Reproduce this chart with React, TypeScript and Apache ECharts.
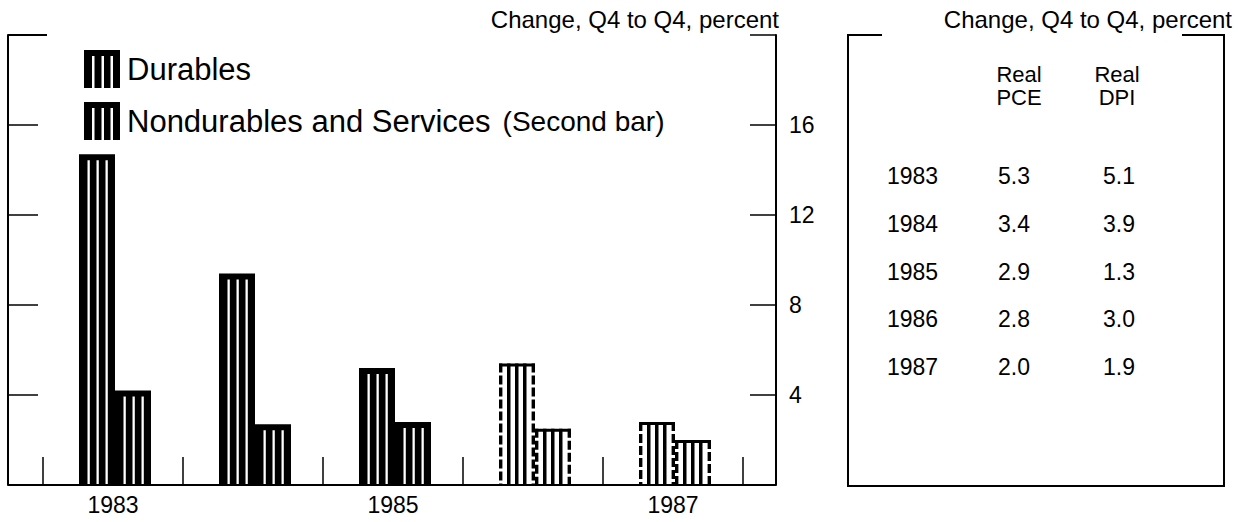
import React, { useEffect, useRef } from 'react';
import * as echarts from 'echarts';

const years = ['1983', '1984', '1985', '1986', '1987'];
const durables = [14.7, 9.4, 5.2, 5.4, 2.8];
const nondurables = [4.2, 2.7, 2.8, 2.5, 2.0];
const projected = [false, false, false, true, true];
const yTicks = [4, 8, 12, 16];

const tableYears = ['1983', '1984', '1985', '1986', '1987'];
const realPCE = ['5.3', '3.4', '2.9', '2.8', '2.0'];
const realDPI = ['5.1', '3.9', '1.3', '3.0', '1.9'];
const unitsLabel = 'Change, Q4 to Q4, percent';

const FONT = '"Liberation Sans", Arial, Helvetica, sans-serif';
const BAR_W = 36;
const DUR = 'Durables';
const NDS = 'Nondurables and Services';

const ICON =
  'path://M0,0H36V6H0Z M0,6H8V38H0Z M10.5,6H17.5V38H10.5Z M20,6H26.5V38H20Z M29,6H36V38H29Z';

function makeRender(first: boolean) {
  return (params: any, api: any) => {
    const idx = api.value(0);
    const v = api.value(1);
    const base = api.coord([idx, 0]);
    const top = api.coord([idx, v]);
    const x0 = first ? base[0] - BAR_W + 2 : base[0] + 2;
    const h = base[1] - top[1];
    const children: any[] = [];
    if (!projected[idx]) {
      children.push({ type: 'rect', shape: { x: x0, y: top[1], width: BAR_W, height: h }, style: { fill: '#000' } });
      [8.5, 17.5, 26.5].forEach((o) => {
        children.push({
          type: 'rect',
          shape: { x: x0 + o, y: top[1] + 6, width: 2.3, height: h - 7 },
          style: { fill: '#fff' },
        });
      });
    } else {
      children.push({ type: 'rect', shape: { x: x0, y: top[1], width: BAR_W, height: 3 }, style: { fill: '#000' } });
      [8, 16, 24].forEach((o) => {
        children.push({
          type: 'rect',
          shape: { x: x0 + o, y: top[1], width: 3.5, height: h },
          style: { fill: '#000' },
        });
      });
      [1.7, BAR_W - 1.7].forEach((o) => {
        children.push({
          type: 'line',
          shape: { x1: x0 + o, y1: top[1], x2: x0 + o, y2: base[1] },
          style: { stroke: '#000', lineWidth: 3.4, lineDash: [9, 3] },
        });
      });
    }
    return { type: 'group', children };
  };
}

export default function App() {
  const ref = useRef<HTMLDivElement>(null);
  useEffect(() => {
    if (!ref.current) return;
    const chart = echarts.init(ref.current, null, { renderer: 'svg' });

    const tableTexts: any[] = [];
    tableTexts.push(
      { type: 'text', x: 1019, y: 63, style: { text: 'Real\nPCE', font: `22px ${FONT}`, fill: '#000', align: 'center', lineHeight: 23 } },
      { type: 'text', x: 1117, y: 63, style: { text: 'Real\nDPI', font: `22px ${FONT}`, fill: '#000', align: 'center', lineHeight: 23 } }
    );
    tableYears.forEach((yr, i) => {
      const y = 176 + i * 47.8;
      tableTexts.push(
        { type: 'text', x: 887, y, style: { text: yr, font: `23px ${FONT}`, fill: '#000', align: 'left', verticalAlign: 'middle' } },
        { type: 'text', x: 1014, y, style: { text: realPCE[i], font: `23px ${FONT}`, fill: '#000', align: 'center', verticalAlign: 'middle' } },
        { type: 'text', x: 1119, y, style: { text: realDPI[i], font: `23px ${FONT}`, fill: '#000', align: 'center', verticalAlign: 'middle' } }
      );
    });

    const lineStyle = { stroke: '#000', lineWidth: 2 };
    chart.setOption({
      animation: false,
      backgroundColor: '#fff',
      textStyle: { fontFamily: FONT, color: '#000' },
      grid: { left: 43, right: 495, top: 35, bottom: 37, containLabel: false },
      legend: {
        orient: 'vertical',
        left: 79,
        top: 45,
        itemWidth: 36,
        itemHeight: 38,
        itemGap: 14,
        selectedMode: false,
        data: [
          { name: DUR, icon: ICON },
          { name: NDS, icon: ICON },
        ],
        formatter: (name: string) => (name === NDS ? `${name}{s|(Second bar)}` : name),
        textStyle: {
          fontSize: 31,
          fontFamily: FONT,
          color: '#000',
          padding: [0, 0, 0, 2],
          rich: { s: { fontSize: 28, fontFamily: FONT, color: '#000', padding: [0, 0, 0, 12] } },
        },
      },
      xAxis: {
        type: 'category',
        data: years,
        axisLine: { lineStyle: { color: '#000', width: 2 } },
        axisTick: { show: true, inside: true, length: 28, alignWithLabel: false, interval: 0, lineStyle: { color: '#000', width: 1.5 } },
        axisLabel: { interval: 1, fontSize: 23, color: '#000', fontFamily: FONT, margin: 8 },
        splitLine: { show: false },
      },
      yAxis: [
        {
          type: 'value',
          position: 'left',
          offset: 35,
          min: 0,
          max: 20,
          interval: 4,
          axisLine: { show: true, lineStyle: { color: '#000', width: 2 } },
          axisTick: { show: true, inside: true, length: 30, lineStyle: { color: '#000', width: 1.5 } },
          axisLabel: { show: false },
          splitLine: { show: false },
        },
        {
          type: 'value',
          position: 'right',
          offset: 33,
          min: 0,
          max: 20,
          interval: 4,
          axisLine: { show: true, lineStyle: { color: '#000', width: 2 } },
          axisTick: { show: true, inside: true, length: 26, lineStyle: { color: '#000', width: 1.5 } },
          axisLabel: {
            fontSize: 23,
            color: '#000',
            fontFamily: FONT,
            margin: 13,
            formatter: (v: number) => (yTicks.includes(v) ? String(v) : ''),
          },
          splitLine: { show: false },
        },
      ],
      series: [
        {
          name: DUR,
          type: 'custom',
          renderItem: makeRender(true),
          itemStyle: { color: '#000' },
          encode: { x: 0, y: 1 },
          data: durables.map((v, i) => [i, v]),
          clip: false,
        },
        {
          name: NDS,
          type: 'custom',
          renderItem: makeRender(false),
          itemStyle: { color: '#000' },
          encode: { x: 0, y: 1 },
          data: nondurables.map((v, i) => [i, v]),
          clip: false,
        },
      ],
      graphic: [
        { type: 'line', shape: { x1: 8, y1: 485, x2: 776, y2: 485 }, style: lineStyle },
        { type: 'line', shape: { x1: 8, y1: 35, x2: 47, y2: 35 }, style: lineStyle },
        { type: 'text', right: 1238 - 779, top: 7, style: { text: unitsLabel, font: `24px ${FONT}`, fill: '#000' } },
        { type: 'text', right: 6, top: 7, style: { text: unitsLabel, font: `24px ${FONT}`, fill: '#000' } },
        { type: 'line', shape: { x1: 848, y1: 35, x2: 848, y2: 486 }, style: lineStyle },
        { type: 'line', shape: { x1: 847, y1: 486, x2: 1225, y2: 486 }, style: lineStyle },
        { type: 'line', shape: { x1: 1224, y1: 35, x2: 1224, y2: 486 }, style: lineStyle },
        { type: 'line', shape: { x1: 847, y1: 35, x2: 882, y2: 35 }, style: lineStyle },
        { type: 'line', shape: { x1: 1182, y1: 35, x2: 1225, y2: 35 }, style: lineStyle },
        ...tableTexts,
      ],
    });
    return () => chart.dispose();
  }, []);
  return <div ref={ref} style={{ position: 'absolute', left: 0, top: 0, width: 1238, height: 522 }} />;
}
